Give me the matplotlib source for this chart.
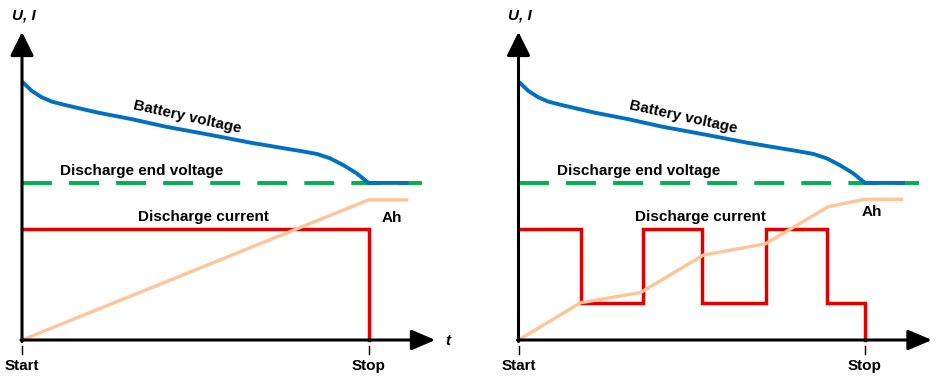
import numpy as np
import matplotlib.pyplot as plt

plt.rcParams['font.family'] = ['Liberation Sans', 'DejaVu Sans']

# --- data (arbitrary units: time 0 = Start, 10 = Stop; U/I 0..100) ---
t_stop = 10
t_dash_end = 11.55     # dashed end-voltage line
t_axis = 11.93         # x-axis arrow tip
y_axis = 100           # y-axis arrow tip

bat_t = [0.0, 0.04, 0.28, 0.57, 0.86, 1.24, 2.20, 3.17, 4.13, 5.43, 6.58, 7.69,
         8.02, 8.51, 8.89, 9.27, 9.66, 10.0, 11.15]
bat_u = [83.8, 83.5, 80.9, 78.8, 77.4, 76.3, 73.8, 71.7, 69.3, 66.6, 64.1, 62.0,
         61.4, 60.4, 59.0, 56.8, 54.1, 51.0, 51.0]
end_voltage = 51.0

# left panel: constant current
cc_t = [0.0, 10.0, 10.0]
cc_i = [36.0, 36.0, 0.0]
cc_ah_t = [0.0, 10.0, 11.15]
cc_ah = [0.0, 45.5, 45.5]

# right panel: pulsed current
pc_t = [0.0, 1.79, 1.79, 3.58, 3.58, 5.29, 5.29, 7.15, 7.15, 8.89, 8.89, 10.0, 10.0]
pc_i = [36.0, 36.0, 12.1, 12.1, 36.0, 36.0, 12.1, 12.1, 36.0, 36.0, 12.1, 12.1, 0.0]
pc_ah_t = [0.0, 1.79, 3.52, 5.34, 7.12, 8.94, 10.0, 11.1]
pc_ah = [0.0, 12.1, 15.4, 27.6, 31.2, 43.3, 45.7, 45.7]

BLUE = '#0070C0'
GREEN = '#00B050'
RED = '#E00000'
PEACH = '#FFC497'

W, H = 940, 376
fig = plt.figure(figsize=(W / 100, H / 100), dpi=100)

px_x = 34.65   # pixels per time unit
px_y = 3.08    # pixels per U/I unit
y0_pix = 340   # baseline, pixels from top
fs = 11


def panel(x0_pix, left_px, width_px, cur_t, cur_i, ah_t, ah, show_t):
    ax = fig.add_axes([left_px / W, 0, width_px / W, 1])
    ax.set_xlim((left_px - x0_pix) / px_x, (left_px + width_px - x0_pix) / px_x)
    ax.set_ylim((y0_pix - H) / px_y, y0_pix / px_y)
    ax.axis('off')

    ax.plot([0, t_dash_end], [end_voltage, end_voltage], color=GREEN, lw=2.8,
            dashes=(7.7, 4.4), dash_capstyle='butt', zorder=2)
    ax.plot(bat_t, bat_u, color=BLUE, lw=2.8, solid_capstyle='butt',
            solid_joinstyle='round', zorder=3)
    ax.plot(cur_t, cur_i, color=RED, lw=2.5, solid_joinstyle='miter', zorder=3)
    ax.plot(ah_t, ah, color=PEACH, lw=2.4, solid_capstyle='butt', zorder=4)

    # axes with arrowheads
    ax.annotate('', xy=(0, y_axis), xytext=(0, -0.5),
                arrowprops=dict(arrowstyle='-|>,head_length=1.45,head_width=0.72',
                                lw=2.2, color='black', mutation_scale=10,
                                shrinkA=0, shrinkB=0), zorder=5)
    ax.annotate('', xy=(t_axis, 0), xytext=(-0.03, 0),
                arrowprops=dict(arrowstyle='-|>,head_length=1.45,head_width=0.62',
                                lw=2.2, color='black', mutation_scale=10,
                                shrinkA=0, shrinkB=0), zorder=5)
    # tick marks
    for xt in (0, t_stop):
        ax.plot([xt, xt], [-2.0, -4.5], color='black', lw=1.0)

    ax.text(0, -8.4, 'Start', ha='center', va='center', fontsize=fs, fontweight='bold')
    ax.text(t_stop, -8.4, 'Stop', ha='center', va='center', fontsize=fs, fontweight='bold')
    ax.text(0.05, 105.2, 'U, I', ha='center', va='center', fontsize=fs,
            fontweight='bold', fontstyle='italic')
    if show_t:
        ax.text(12.3, -0.4, 't', ha='center', va='center', fontsize=fs,
                fontweight='bold', fontstyle='italic')
    ax.text(4.76, 72.3, 'Battery voltage', ha='center', va='center', fontsize=fs,
            fontweight='bold', rotation=-12.5)
    ax.text(3.46, 54.9, 'Discharge end voltage', ha='center', va='center',
            fontsize=fs, fontweight='bold')
    ax.text(5.25, 40.0, 'Discharge current', ha='center', va='center',
            fontsize=fs, fontweight='bold')
    return ax


ax1 = panel(22, 0, 470, cc_t, cc_i, cc_ah_t, cc_ah, True)
ax2 = panel(518.5, 470, 470, pc_t, pc_i, pc_ah_t, pc_ah, False)

ax1.text(10.68, 39.6, 'Ah', ha='center', va='center', fontsize=fs, fontweight='bold')
ax2.text(10.19, 41.6, 'Ah', ha='center', va='center', fontsize=fs, fontweight='bold')

fig.savefig('out.png', dpi=100)
